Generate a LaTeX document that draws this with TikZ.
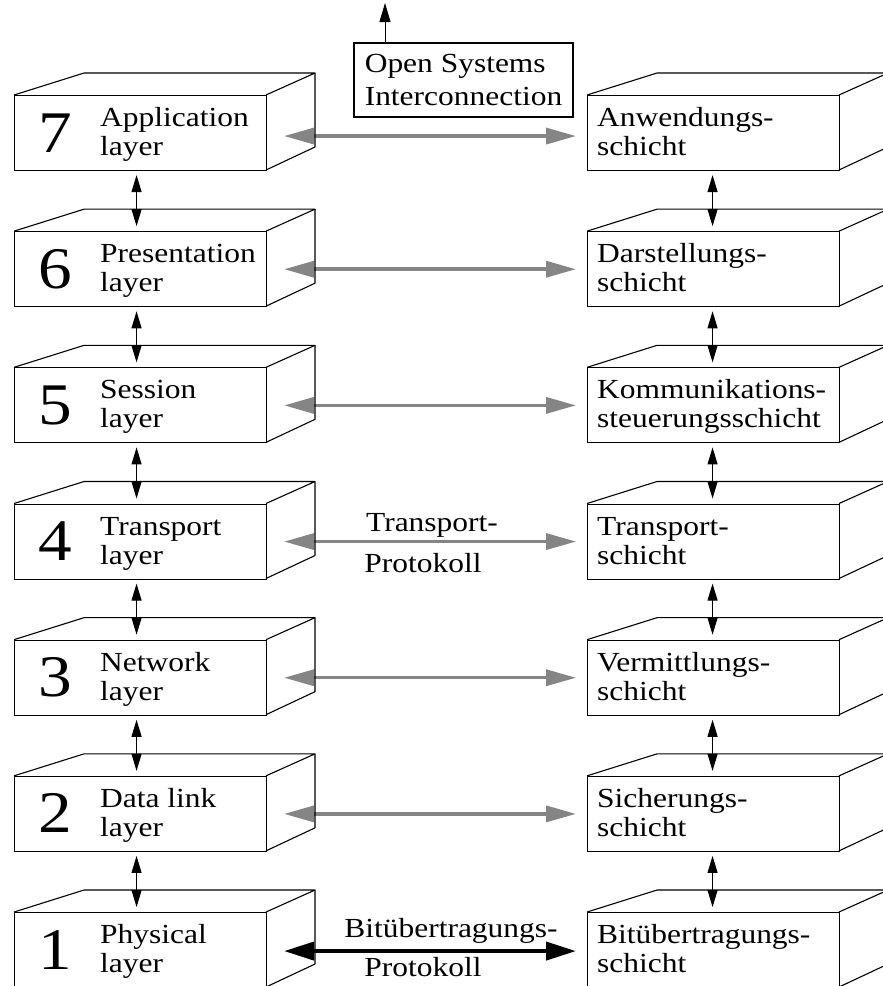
\documentclass[tikz,border=0pt]{standalone}
\usepackage{fontspec}
\setmainfont{Liberation Serif}[FakeStretch=1.14]
\usetikzlibrary{arrows.meta,calc}
\definecolor{peergray}{gray}{0.52}
\begin{document}
\begin{tikzpicture}[x=1pt,y=-1pt,
  face/.style={draw=black,line width=1.1pt,fill=white,minimum width=252pt,
    minimum height=75pt,inner sep=0pt,anchor=north west},
  edgeline/.style={draw=black,line width=1.1pt,line join=round},
  lbl/.style={font=\fontsize{27.6}{30}\selectfont,anchor=base west,inner sep=0pt,
    text height=19pt,text depth=6pt},
  proto/.style={font=\fontsize{27.6}{30}\selectfont,anchor=base,inner sep=0pt,
    text height=19pt,text depth=6pt},
  digit/.style={font=\fontsize{59}{60}\selectfont,anchor=base west,inner sep=0pt},
  peer/.style={draw=peergray,line width=3.5pt,
    {Triangle[length=30pt,width=16pt]}-{Triangle[length=30pt,width=16pt]}},
  physpeer/.style={draw=black,line width=4pt,
    {Triangle[length=30pt,width=18pt]}-{Triangle[length=30pt,width=18pt]}},
  updown/.style={draw=black,line width=1pt,
    {Triangle[length=17pt,width=10pt]}-{Triangle[length=17pt,width=10pt]}},
  osibox/.style={draw=black,line width=1.1pt,fill=white,minimum width=219pt,
    minimum height=74pt,inner sep=0pt,align=left,
    font=\fontsize{27.6}{33}\selectfont},
]
\useasboundingbox (0,0) rectangle (883,986);

% front faces of both protocol stacks, with their labels
\foreach \n/\la/\lb/\ra/\rb in {
    7/Application/layer/Anwendungs-/schicht,
    6/Presentation/layer/Darstellungs-/schicht,
    5/Session/layer/Kommunikations-/steuerungsschicht,
    4/Transport/layer/Transport-/schicht,
    3/Network/layer/Vermittlungs-/schicht,
    2/Data link/layer/Sicherungs-/schicht,
    1/Physical/layer/Bitübertragungs-/schicht}{
  \pgfmathsetmacro\T{95+(7-\n)*136.17}
  \node[face] (L\n) at (14,\T) {};
  \node[face] (R\n) at (587,\T) {};
  \node[digit] (D\n) at (38,\T+57) {\n};
  \node[lbl] (La\n) at (100,\T+31.5) {\la};
  \node[lbl] (Lb\n) at (100,\T+60.5) {\lb};
  \node[lbl] (Ra\n) at (597,\T+31.5) {\ra};
  \node[lbl] (Rb\n) at (597,\T+60.5) {\rb};
}

% peer protocols between the two stacks
\draw[peer] ([xshift=17pt,yshift=-3pt]L7.east) -- ([xshift=-11pt,yshift=-3pt]R7.west);
\foreach \n in {6,...,2}{
  \draw[peer] ([xshift=17pt]L\n.east) -- ([xshift=-11pt]R\n.west);
}
\draw[physpeer] ([xshift=17pt,yshift=-1pt]L1.east) -- ([xshift=-11pt,yshift=-1pt]R1.west);

% services between adjacent layers
\foreach \n [evaluate=\n as \m using int(\n-1)] in {7,...,2}{
  \draw[updown] ([xshift=-4pt,yshift=-4pt]L\n.south) -- ([xshift=-4pt,yshift=5pt]L\m.north);
  \draw[updown] ([xshift=-1pt,yshift=-4pt]R\n.south) -- ([xshift=-1pt,yshift=5pt]R\m.north);
}

% top and side faces of the blocks
\foreach \n in {7,...,1}{
  \pgfmathsetmacro\T{95+(7-\n)*136.17}
  \foreach \X in {0,573}{
    \draw[edgeline] (\X+14,\T) -- (\X+84,\T-22) -- (\X+315,\T-22) -- (\X+266,\T);
    \draw[edgeline] (\X+315,\T-22) -- (\X+315,\T+52) -- (\X+266,\T+75);
  }
}

% protocol names
\node[proto] (tp1) at (432,531) {Transport-};
\node[proto] (tp2) at (423,572) {Protokoll};
\node[proto] (bp1) at (451,937) {Bitübertragungs-};
\node[proto] (bp2) at (423,976) {Protokoll};

% model title
\node[osibox] (osi) at (463.5,80) {Open Systems\\Interconnection};
\coordinate (ositop) at (385,3);
\draw[draw=black,line width=1pt,-{Triangle[length=19pt,width=11pt]}]
  (osi.north -| ositop) -- (ositop);
\end{tikzpicture}
\end{document}
